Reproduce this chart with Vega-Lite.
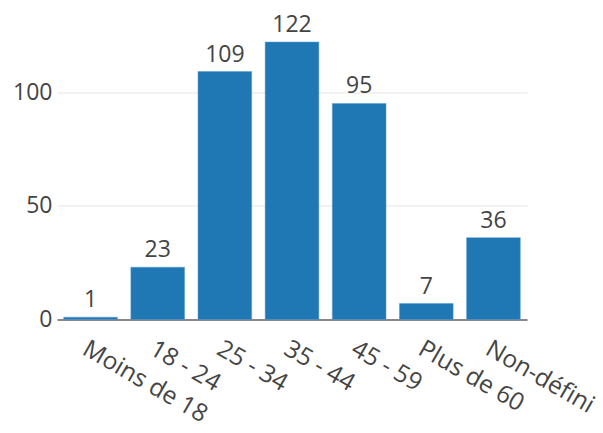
{
  "$schema": "https://vega.github.io/schema/vega-lite/v6.json",
  "width": 470,
  "height": 292,
  "autosize": "none",
  "padding": {"left": 57, "top": 27.5, "right": 76, "bottom": 113.5},
  "background": "white",
  "config": {
    "view": {"stroke": null},
    "font": "Open Sans",
    "axis": {"labelFont": "Open Sans", "labelColor": "#444", "labelFontSize": 23}
  },
  "data": {
    "values": [
      {"age": "Moins de 18", "count": 1},
      {"age": "18 - 24", "count": 23},
      {"age": "25 - 34", "count": 109},
      {"age": "35 - 44", "count": 122},
      {"age": "45 - 59", "count": 95},
      {"age": "Plus de 60", "count": 7},
      {"age": "Non-défini", "count": 36}
    ]
  },
  "encoding": {
    "x": {
      "field": "age",
      "type": "nominal",
      "sort": null,
      "scale": {"paddingInner": 0.2, "paddingOuter": 0.1},
      "axis": {
        "title": null,
        "labelAngle": 30,
        "labelAlign": "left",
        "labelBaseline": "top",
        "labelPadding": 17,
        "labelFontSize": 24.5,
        "ticks": false,
        "domainColor": "#888",
        "domainWidth": 2,
        "grid": false
      }
    },
    "y": {
      "field": "count",
      "type": "quantitative",
      "scale": {"domain": [0, 128.4], "nice": false},
      "axis": {
        "title": null,
        "values": [0, 50, 100],
        "ticks": false,
        "domain": false,
        "labelPadding": 5,
        "gridColor": "#eee",
        "gridWidth": 1.5
      }
    }
  },
  "layer": [
    {"mark": {"type": "bar", "color": "#1f77b4", "stroke": "#5b9bd0", "strokeWidth": 0.5}},
    {
      "mark": {"type": "text", "baseline": "alphabetic", "dy": -10, "fontSize": 23, "color": "#444", "font": "Open Sans"},
      "encoding": {"text": {"field": "count", "type": "quantitative"}}
    }
  ]
}
